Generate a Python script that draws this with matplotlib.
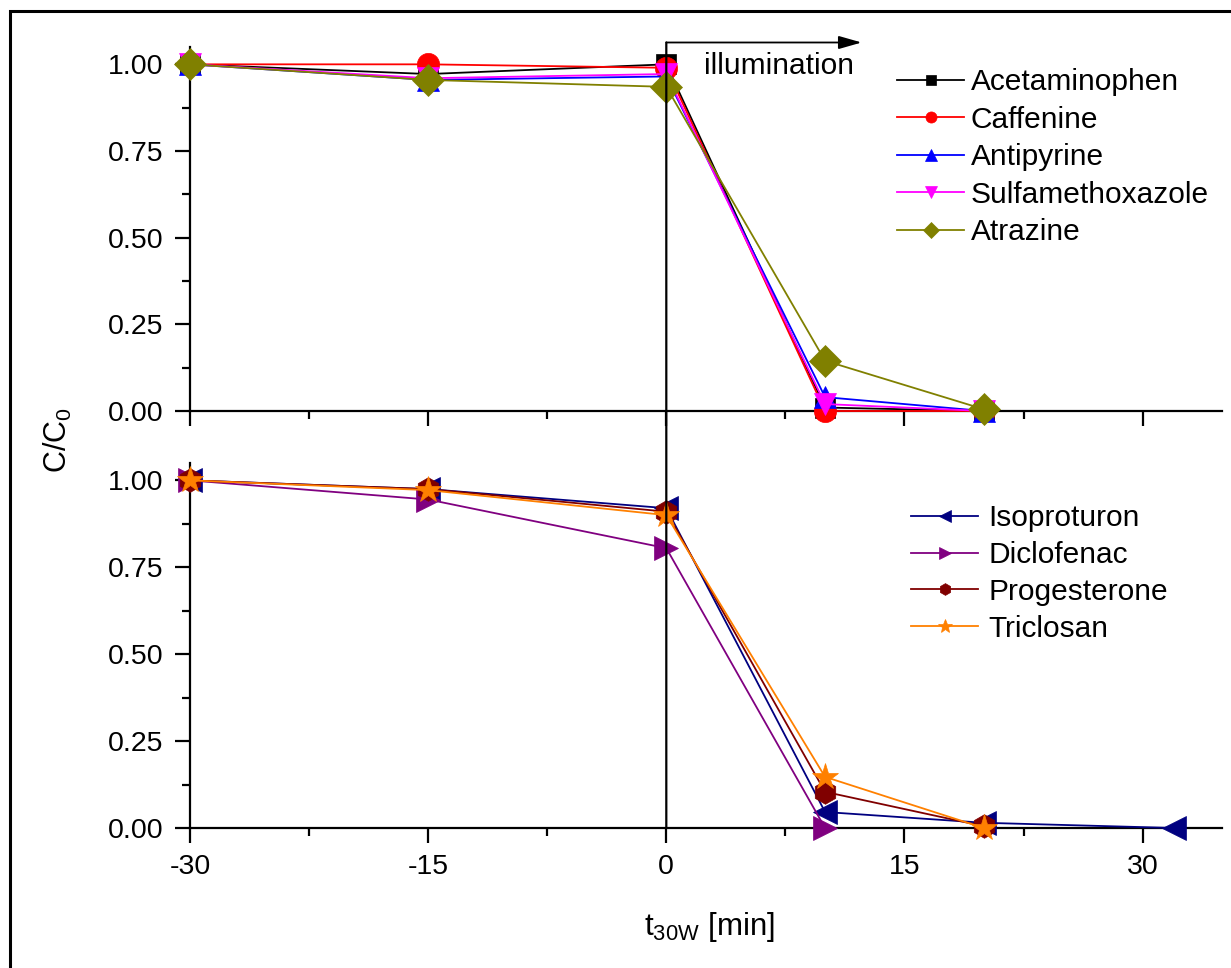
import matplotlib
matplotlib.use("Agg")
import matplotlib.pyplot as plt
from matplotlib.patches import ConnectionPatch, Rectangle
from matplotlib.ticker import MultipleLocator, FormatStrFormatter

plt.rcParams["font.family"] = ["Liberation Sans", "DejaVu Sans"]
plt.rcParams["mathtext.default"] = "regular"
plt.rcParams["axes.unicode_minus"] = False

# upper panel
t_top = [-30, -15, 0, 10, 20]
acetaminophen = [1.00, 0.972, 1.00, 0.01, 0.0]
caffenine = [1.00, 1.00, 0.99, 0.0, 0.0]
antipyrine = [1.00, 0.955, 0.965, 0.04, 0.0]
sulfamethoxazole = [1.00, 0.96, 0.972, 0.02, 0.0]
atrazine = [1.00, 0.955, 0.935, 0.145, 0.005]

# lower panel
t_iso = [-30, -15, 0, 10, 20, 32]
isoproturon = [1.00, 0.975, 0.92, 0.046, 0.015, 0.0]
t_dic = [-30, -15, 0, 10]
diclofenac = [1.00, 0.945, 0.805, 0.0]
t_low = [-30, -15, 0, 10, 20]
progesterone = [1.00, 0.975, 0.91, 0.104, 0.005]
triclosan = [1.00, 0.972, 0.90, 0.147, 0.0]

top_series = [
    (t_top, acetaminophen, "Acetaminophen", "black", "s", 14),
    (t_top, caffenine, "Caffenine", "#ff0000", "o", 16),
    (t_top, antipyrine, "Antipyrine", "#0000ff", "^", 16),
    (t_top, sulfamethoxazole, "Sulfamethoxazole", "#ff00ff", "v", 16),
    (t_top, atrazine, "Atrazine", "#808000", "D", 16),
]
bottom_series = [
    (t_iso, isoproturon, "Isoproturon", "#000080", "<", 17),
    (t_dic, diclofenac, "Diclofenac", "#800080", ">", 17),
    (t_low, progesterone, "Progesterone", "#800000", "h", 17),
    (t_low, triclosan, "Triclosan", "#ff8000", "*", 20),
]

W, H = 1231, 968
fig = plt.figure(figsize=(W / 100, H / 100), dpi=100)
fs = 20.5
lfs = 21.5

ax1 = fig.add_axes([190 / W, 1 - 411 / H, 1032 / W, 364 / H])
ax2 = fig.add_axes([190 / W, 1 - 828 / H, 1032 / W, 365 / H])

for ax, series in [(ax1, top_series), (ax2, bottom_series)]:
    for x, y, name, color, marker, ms in series:
        ax.plot(x, y, color=color, lw=1.3, marker=marker, ms=ms,
                mec=color, mew=0.5, label=name, clip_on=False, zorder=3)
    ax.set_xlim(-30, 35)
    ax.set_ylim(0, 1.05)
    ax.spines["top"].set_visible(False)
    ax.spines["right"].set_visible(False)
    ax.spines["left"].set_linewidth(1.6)
    ax.spines["bottom"].set_linewidth(1.6)
    ax.xaxis.set_major_locator(MultipleLocator(15))
    ax.xaxis.set_minor_locator(MultipleLocator(7.5))
    ax.yaxis.set_major_locator(MultipleLocator(0.25))
    ax.yaxis.set_minor_locator(MultipleLocator(0.125))
    ax.yaxis.set_major_formatter(FormatStrFormatter("%.2f"))
    ax.tick_params(which="major", direction="out", length=11, width=1.6,
                   labelsize=fs, pad=8)
    ax.tick_params(which="minor", direction="out", length=6, width=1.6)
    ax.patch.set_alpha(0)

ax1.tick_params(axis="x", labelbottom=False)

ax1.legend(loc="upper left", bbox_to_anchor=(897 / W, 1 - 68 / H),
           bbox_transform=fig.transFigure, frameon=False, fontsize=lfs,
           borderpad=0, borderaxespad=0, handlelength=2.25,
           handletextpad=0.22, labelspacing=0.32, markerscale=0.5)
ax2.legend(loc="upper left", bbox_to_anchor=(911 / W, 1 - 504 / H),
           bbox_transform=fig.transFigure, frameon=False, fontsize=lfs,
           borderpad=0, borderaxespad=0, handlelength=2.25,
           handletextpad=0.33, labelspacing=0.3, markerscale=0.5)

# illumination marker: vertical line through both panels and arrow
con = ConnectionPatch(xyA=(0, 1.063), coordsA=ax1.transData,
                      xyB=(0, 0), coordsB=ax2.transData,
                      color="black", lw=1.6, zorder=1)
fig.add_artist(con)
ax1.annotate("", xy=(12.3, 1.063), xytext=(0, 1.063),
             arrowprops=dict(arrowstyle="-|>,head_length=1.4,head_width=0.4",
                             color="black", lw=1.3, shrinkA=0, shrinkB=0),
             annotation_clip=False)
ax1.text(7.1, 0.994, "illumination", fontsize=lfs, ha="center", va="center")

fig.text(58 / W, 1 - 440 / H, "C/C$_0$", rotation=90, fontsize=22,
         ha="center", va="center")
fig.text(709 / W, 1 - 927 / H, "t$_{30W}$ [min]", fontsize=22.5,
         ha="center", va="center")

# outer frame of the original figure
fig.patches.append(Rectangle((10 / W, -0.1), 1.2, 1 - 11 / H + 0.1,
                             transform=fig.transFigure, fill=False,
                             lw=2.2, edgecolor="black"))

plt.savefig("out.png", dpi=100)
